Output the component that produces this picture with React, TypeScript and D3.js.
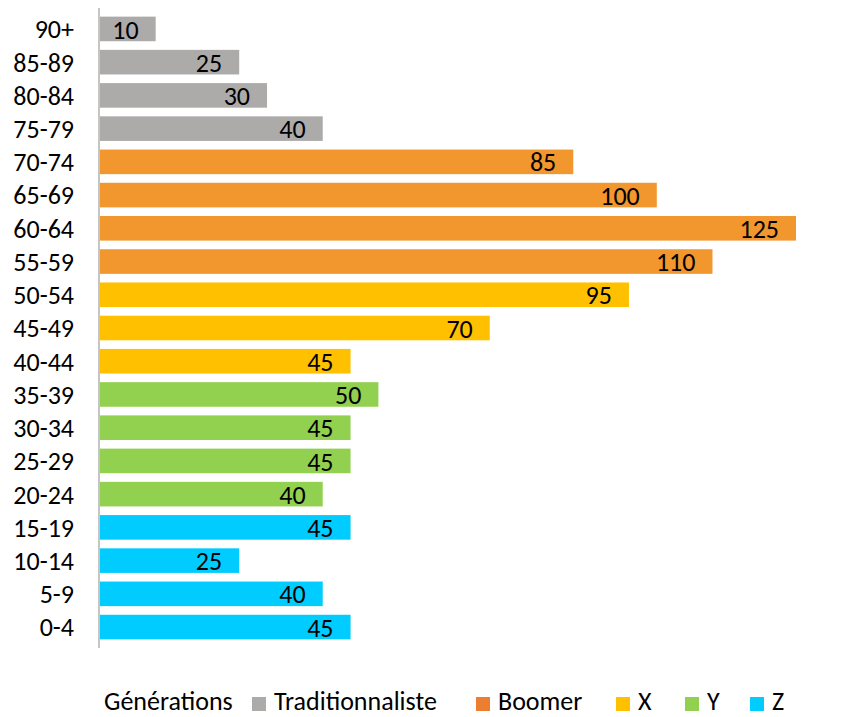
import { useRef, useEffect } from 'react';
import * as d3 from 'd3';

const ageGroups = ['90+', '85-89', '80-84', '75-79', '70-74', '65-69', '60-64', '55-59', '50-54', '45-49', '40-44', '35-39', '30-34', '25-29', '20-24', '15-19', '10-14', '5-9', '0-4'];
const counts = [10, 25, 30, 40, 85, 100, 125, 110, 95, 70, 45, 50, 45, 45, 40, 45, 25, 40, 45];
const generationOf = ['Traditionnaliste', 'Traditionnaliste', 'Traditionnaliste', 'Traditionnaliste', 'Boomer', 'Boomer', 'Boomer', 'Boomer', 'X', 'X', 'X', 'Y', 'Y', 'Y', 'Y', 'Z', 'Z', 'Z', 'Z'];
const generations = ['Traditionnaliste', 'Boomer', 'X', 'Y', 'Z'];
const barColors = ['#ADAAAA', '#F2962E', '#FFC000', '#92D050', '#00CCFF'];
const legendColors = ['#ADAAAA', '#ED7D31', '#FFC000', '#92D050', '#00CCFF'];

const width = 868;
const height = 717;
const font = 'Carlito, Calibri, Lato, sans-serif';
const fontSize = 26;

export default function App() {
  const ref = useRef<SVGSVGElement>(null);

  useEffect(() => {
    const svg = d3.select(ref.current);
    svg.selectAll('*').remove();

    const margin = { top: 8, left: 99, bottom: 648 };
    const data = ageGroups.map((g, i) => ({ group: g, value: counts[i], gen: generationOf[i] }));

    const y = d3.scaleBand().domain(ageGroups).range([margin.top, margin.bottom]).padding(0.26);
    const x = d3.scaleLinear().domain([0, 125]).range([margin.left + 1, 796]);
    const color = d3.scaleOrdinal<string>().domain(generations).range(barColors);

    svg.append('g')
      .selectAll('rect')
      .data(data)
      .join('rect')
      .attr('x', x(0))
      .attr('y', (d) => y(d.group)!)
      .attr('width', (d) => x(d.value) - x(0))
      .attr('height', y.bandwidth())
      .attr('fill', (d) => color(d.gen));

    // value labels, inside the bar end
    svg.append('g')
      .selectAll('text')
      .data(data)
      .join('text')
      .attr('x', (d) => x(d.value) - 17)
      .attr('y', (d) => y(d.group)! + y.bandwidth() / 2)
      .attr('dy', '0.37em')
      .attr('text-anchor', 'end')
      .attr('font-family', font)
      .attr('font-size', fontSize)
      .attr('fill', '#000')
      .text((d) => d.value);

    const yAxis = svg.append('g')
      .attr('transform', `translate(${margin.left},0)`)
      .call(d3.axisLeft(y).tickSize(0).tickPadding(25).tickSizeOuter(0));
    yAxis.select('.domain').attr('stroke', '#A6A6A6').attr('stroke-width', 1.3).attr('d', `M0,${margin.top}V${margin.bottom}`);
    yAxis.selectAll('text').attr('font-family', font).attr('font-size', fontSize).attr('fill', '#000').attr('dy', '0.36em');

    const legend = svg.append('g').attr('font-family', font).attr('font-size', fontSize);
    legend.append('text').attr('x', 104).attr('y', 710).text('Générations');
    const itemX = [252, 476, 616, 685, 750];
    generations.forEach((g, i) => {
      legend.append('rect').attr('x', itemX[i]).attr('y', 697).attr('width', 14).attr('height', 14).attr('fill', legendColors[i]);
      legend.append('text').attr('x', itemX[i] + 22).attr('y', 710).text(g);
    });
  }, []);

  return (
    <svg ref={ref} width={width} height={height} style={{ position: 'absolute', left: 0, top: 0, background: '#fff' }} />
  );
}
